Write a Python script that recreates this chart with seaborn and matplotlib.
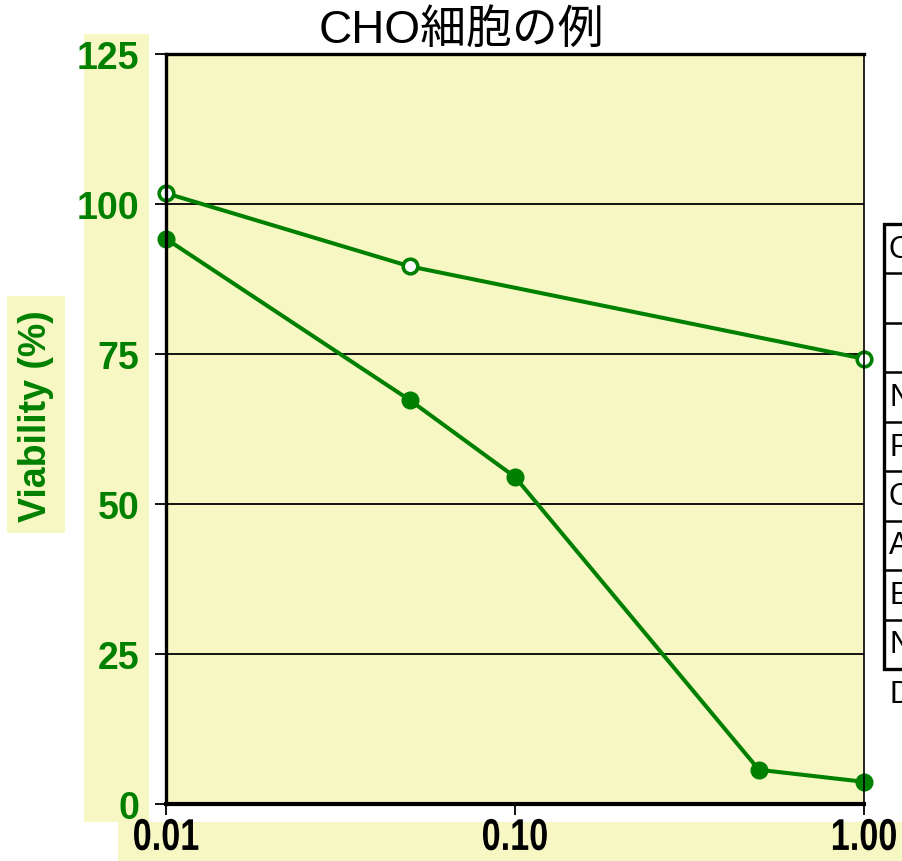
import matplotlib
matplotlib.use("Agg")
import matplotlib.pyplot as plt
import seaborn as sns
import pandas as pd
from matplotlib.patches import Rectangle
from matplotlib.ticker import NullLocator
from matplotlib.lines import Line2D
from matplotlib.patheffects import AbstractPathEffect
from matplotlib.transforms import Affine2D

# ---- data ----
title = "CHO細胞の例"
y_label = "Viability (%)"
conc_open = [0.01, 0.05, 1.0]
viab_open = [101.8, 89.6, 74.2]
conc_filled = [0.01, 0.05, 0.1, 0.5, 1.0]
viab_filled = [94.2, 67.3, 54.5, 5.7, 3.7]
x_ticks = [0.01, 0.1, 1.0]
x_tick_labels = ["0.01", "0.10", "1.00"]
y_ticks = [0, 25, 50, 75, 100, 125]
table_rows = ["C", "", "", "N", "F", "C", "A", "E", "N"]
table_footer = "D"

GREEN = "#008000"
YELLOW = "#F7F7C4"


class HSqueeze(AbstractPathEffect):
    """Render text horizontally condensed about its own centre."""
    def __init__(self, sx):
        super().__init__()
        self.sx = sx

    def draw_path(self, renderer, gc, tpath, affine, rgbFace=None):
        ext = tpath.get_extents(affine)
        cx = (ext.x0 + ext.x1) / 2
        a = affine + Affine2D().translate(-cx, 0).scale(self.sx, 1).translate(cx, 0)
        renderer.draw_path(gc, tpath, a, rgbFace)


sns.set_theme(style="white")
plt.rcParams["font.family"] = ["Liberation Sans", "DejaVu Sans"]

W, H = 902, 862
fig = plt.figure(figsize=(W / 100, H / 100), dpi=100)
fig.patch.set_facecolor("white")

def fx(px):
    return px / W

def fy(py):
    return 1 - py / H

def frect(x0, y0, x1, y1, **kw):
    r = Rectangle((fx(x0), fy(y1)), (x1 - x0) / W, (y1 - y0) / H,
                  transform=fig.transFigure, **kw)
    fig.patches.append(r)
    return r

# yellow label backgrounds
frect(84, 35, 149, 823, facecolor=YELLOW, edgecolor="none", zorder=-2)
frect(118, 823, 902, 862, facecolor=YELLOW, edgecolor="none", zorder=-2)
frect(7, 297, 65, 534, facecolor=YELLOW, edgecolor="none", zorder=-2)

ax = fig.add_axes([fx(166), fy(805), (864 - 166) / W, (805 - 55) / H])
ax.set_facecolor(YELLOW)

df_open = pd.DataFrame({"conc": conc_open, "viab": viab_open})
df_filled = pd.DataFrame({"conc": conc_filled, "viab": viab_filled})

sns.lineplot(data=df_filled, x="conc", y="viab", ax=ax, color=GREEN, lw=2.9,
             marker="o", markersize=12, markerfacecolor=GREEN,
             markeredgecolor=GREEN, markeredgewidth=1, clip_on=False, zorder=5)
sns.lineplot(data=df_open, x="conc", y="viab", ax=ax, color=GREEN, lw=2.9,
             marker="o", markersize=10.5, markerfacecolor="white",
             markeredgecolor=GREEN, markeredgewidth=2.6, clip_on=False, zorder=5)

ax.set_xscale("log")
ax.set_xlim(0.01, 1.0)
ax.set_ylim(0, 125)
ax.set_xticks(x_ticks)
ax.set_xticklabels(x_tick_labels)
ax.xaxis.set_minor_locator(NullLocator())
ax.set_yticks(y_ticks)
ax.set_yticklabels([str(v) for v in y_ticks])

ax.yaxis.grid(True, color="black", lw=1.3)
ax.xaxis.grid(False)
ax.set_axisbelow(True)

for side, lw in [("left", 2.4), ("bottom", 3.0), ("top", 2.4), ("right", 1.2)]:
    ax.spines[side].set_visible(True)
    ax.spines[side].set_color("black")
    ax.spines[side].set_linewidth(lw)
    ax.spines[side].set_zorder(6)

ax.tick_params(axis="y", direction="out", length=8, width=1.3, color="black",
               left=True, pad=11, labelsize=27, labelcolor=GREEN)
ax.tick_params(axis="x", direction="out", length=8, width=1.3, color="black",
               bottom=True, pad=2, labelsize=32, labelcolor="black")
for t in ax.get_yticklabels():
    t.set_fontweight("bold")
for t in ax.get_xticklabels():
    t.set_fontweight("bold")
    t.set_path_effects([HSqueeze(0.77)])

ax.set_xlabel("")
ax.set_ylabel(y_label, color=GREEN, fontsize=27, fontweight="bold", va="center")
ax.yaxis.set_label_coords((36 - 166) / 698, (805 - 416) / 750)

fig.text(fx(461), fy(43), title, ha="center", va="baseline", fontsize=33,
         color="black", family=["Liberation Sans", "Noto Sans CJK JP", "DejaVu Sans"])

# clipped table at the right
top, bottom = 225, 670
n = len(table_rows)
rh = (bottom - top) / n
frect(884, top, 940, bottom, facecolor="white", edgecolor="black", lw=2.4, zorder=1)
for i, lab in enumerate(table_rows):
    y0 = top + i * rh
    if i > 0:
        fig.add_artist(Line2D([fx(884), fx(940)], [fy(y0), fy(y0)],
                              transform=fig.transFigure, color="black", lw=1.8, zorder=2))
    fig.text(fx(889), fy(y0 + rh / 2), lab, ha="left", va="center",
             fontsize=22, color="black", zorder=3)
fig.text(fx(889), fy(695), table_footer, ha="left", va="center", fontsize=22,
         color="black")

fig.savefig("out.png", dpi=100)
